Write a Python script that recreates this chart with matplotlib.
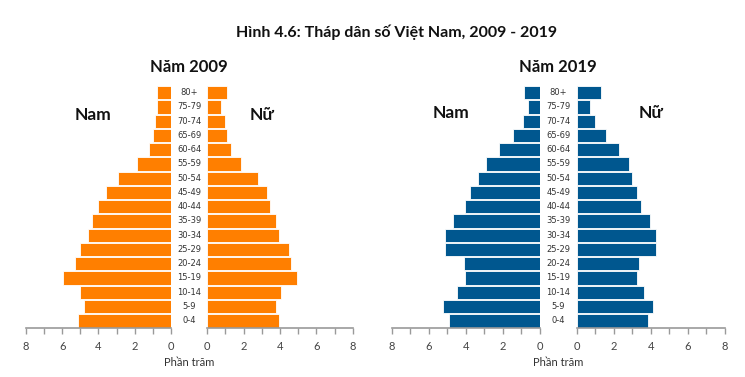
import matplotlib.pyplot as plt
import numpy as np

ages = ["0-4", "5-9", "10-14", "15-19", "20-24", "25-29", "30-34", "35-39",
        "40-44", "45-49", "50-54", "55-59", "60-64", "65-69", "70-74", "75-79", "80+"]

# percent of population (0-4 first)
male_2009 = [5.15, 4.82, 5.04, 5.95, 5.27, 5.04, 4.59, 4.36, 4.03, 3.59, 2.91, 1.90, 1.22, 0.99, 0.88, 0.76, 0.76]
female_2009 = [3.97, 3.77, 4.07, 4.96, 4.58, 4.47, 3.97, 3.77, 3.46, 3.28, 2.78, 1.87, 1.28, 1.08, 0.97, 0.77, 1.08]
male_2019 = [4.91, 5.22, 4.48, 4.03, 4.10, 5.14, 5.11, 4.68, 4.03, 3.78, 3.36, 2.91, 2.23, 1.47, 0.90, 0.63, 0.86]
female_2019 = [3.87, 4.14, 3.62, 3.27, 3.38, 4.30, 4.26, 3.94, 3.45, 3.26, 2.99, 2.81, 2.27, 1.56, 0.99, 0.74, 1.29]

ticks = [0, 2, 4, 6, 8]

W, H = 745, 377
fig = plt.figure(figsize=(W / 100, H / 100), dpi=100)

font = "Lato"
narrow = ["Liberation Sans Narrow", "DejaVu Sans"]
gray = "#9a9a9a"


def make_axes(x0, x1):
    return fig.add_axes([x0 / W, 1 - 328 / H, (x1 - x0) / W, (328 - 85.6) / H])


def style(ax, flip):
    y = np.arange(len(ages))
    ax.set_ylim(-0.5, 16.5)
    ax.set_xlim(0, 8)
    if flip:
        ax.invert_xaxis()
    for s in ["top", "left", "right"]:
        ax.spines[s].set_visible(False)
    ax.spines["bottom"].set_color(gray)
    ax.spines["bottom"].set_linewidth(1.2)
    ax.set_yticks([])
    ax.set_xticks(ticks)
    ax.set_xticks(range(9), minor=True)
    ax.tick_params(axis="x", which="both", length=4, width=1, color=gray,
                   labelsize=8, labelcolor="#444444", pad=5)
    for lab in ax.get_xticklabels():
        lab.set_family(font)
    return y


def pyramid(xl0, xl1, xr0, xr1, male, female, color, title, nam_xy, nu_xy):
    axl = make_axes(xl0, xl1)
    axr = make_axes(xr0, xr1)
    y = style(axl, True)
    style(axr, False)
    axl.barh(y, male, height=0.93, color=color, edgecolor="white", linewidth=0.6)
    axr.barh(y, female, height=0.93, color=color, edgecolor="white", linewidth=0.6)

    xc = (xl1 + xr0) / 2
    for i, a in enumerate(ages):
        yy = 320.7 - i * 14.25
        fig.text(xc / W, 1 - yy / H, a, ha="center", va="center",
                 fontsize=6, color="#333333", family=narrow)

    fig.text(xc / W, 1 - 66.5 / H, title, ha="center", va="center",
             fontsize=12, fontweight="bold", family=font, color="#111111")
    fig.text(nam_xy[0] / W, 1 - nam_xy[1] / H, "Nam", ha="center", va="center",
             fontsize=12.5, fontweight="bold", family=font, color="#111111")
    fig.text(nu_xy[0] / W, 1 - nu_xy[1] / H, "Nữ", ha="center", va="center",
             fontsize=12.5, fontweight="bold", family=font, color="#111111")
    fig.text(xc / W, 1 - 363 / H, "Phần trăm", ha="center", va="center",
             fontsize=8, family=font, color="#333333")


pyramid(26, 171, 207.3, 352.7, male_2009, female_2009, "#ff7f00",
        "Năm 2009", (92.5, 115), (262, 115))
pyramid(391.7, 540, 576.7, 725, male_2019, female_2019, "#00578f",
        "Năm 2019", (451.5, 113.5), (651, 113.5))

fig.text(397 / W, 1 - 32 / H, "Hình 4.6: Tháp dân số Việt Nam, 2009 - 2019",
         ha="center", va="center", fontsize=11.5, fontweight="bold",
         family=font, color="#111111")

fig.savefig("out.png", dpi=100)
